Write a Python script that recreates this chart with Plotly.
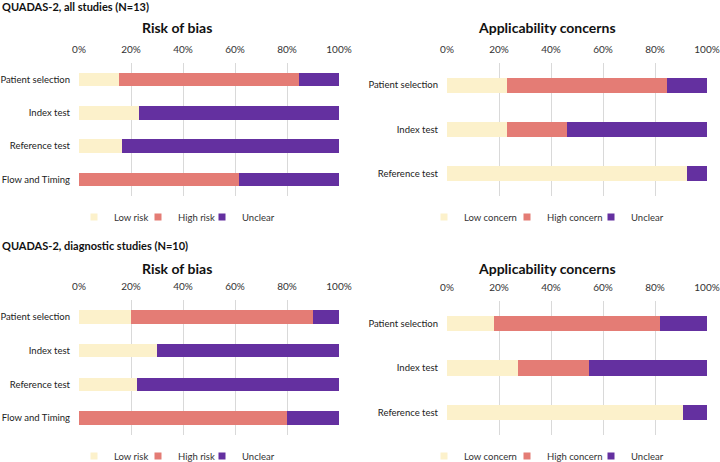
import plotly.graph_objects as go

# ---- data (percent of studies) ----
rob_cats = ["Patient selection", "Index test", "Reference test", "Flow and Timing"]
app_cats = ["Patient selection", "Index test", "Reference test"]

# QUADAS-2, all studies (N=13)
all_rob_low = [15.4, 23.1, 16.7, 0.0]
all_rob_high = [69.2, 0.0, 0.0, 61.5]
all_rob_unclear = [15.4, 76.9, 83.3, 38.5]
all_app_low = [23.1, 23.1, 92.3]
all_app_high = [61.5, 23.1, 0.0]
all_app_unclear = [15.4, 53.8, 7.7]

# QUADAS-2, diagnostic studies (N=10)
dx_rob_low = [20.0, 30.0, 22.2, 0.0]
dx_rob_high = [70.0, 0.0, 0.0, 80.0]
dx_rob_unclear = [10.0, 70.0, 77.8, 20.0]
dx_app_low = [18.2, 27.3, 90.9]
dx_app_high = [63.6, 27.3, 0.0]
dx_app_unclear = [18.2, 45.4, 9.1]

rob_names = ["Low risk", "High risk", "Unclear"]
app_names = ["Low concern", "High concern", "Unclear"]
tick_vals = [0, 20, 40, 60, 80, 100]
tick_text = ["0%", "20%", "40%", "60%", "80%", "100%"]

COLORS = ["#FCF1CB", "#E47C75", "#6430A0"]
FONT = "Lato, Carlito, Calibri, Liberation Sans, sans-serif"
W, H = 720, 462

fig = go.Figure()

panels = [
    # (cats, series, names, xaxis, yaxis, xpx, ypx, bargap, legend_y, legend square x positions)
    (rob_cats, [all_rob_low, all_rob_high, all_rob_unclear], rob_names, "x", "y", (79, 339), (63, 196), 0.6, 217, (94, 158, 222)),
    (app_cats, [all_app_low, all_app_high, all_app_unclear], app_names, "x2", "y2", (447, 707), (63, 196), 0.655, 217, (444, 527, 611)),
    (rob_cats, [dx_rob_low, dx_rob_high, dx_rob_unclear], rob_names, "x3", "y3", (79, 339), (300, 435), 0.6, 456, (94, 158, 222)),
    (app_cats, [dx_app_low, dx_app_high, dx_app_unclear], app_names, "x4", "y4", (447, 707), (301, 435), 0.655, 456, (444, 527, 611)),
]

layout = dict(
    width=W, height=H, margin=dict(l=0, r=0, t=0, b=0, autoexpand=False),
    paper_bgcolor="white", plot_bgcolor="white",
    barmode="stack", showlegend=True,
    font=dict(family=FONT, size=10, color="#222222"),
)

legend_idx = 0
for i, (cats, series, names, xa, ya, xpx, ypx, gap, ly, sq) in enumerate(panels):
    for j, (s, name, col) in enumerate(zip(series, names, COLORS)):
        fig.add_trace(go.Bar(
            y=cats, x=s, name=name, orientation="h",
            marker=dict(color=col, line=dict(width=0)),
            xaxis=xa, yaxis=ya, showlegend=False, width=1 - gap,
            hovertemplate="%{y}: %{x:.1f}%<extra>" + name + "</extra>",
        ))
        legend_idx += 1
        lg = "legend" if legend_idx == 1 else "legend%d" % legend_idx
        # legend proxy with a small square swatch
        fig.add_trace(go.Scatter(
            x=[None], y=[None], mode="markers", name=name,
            marker=dict(symbol="square", size=7, color=col),
            xaxis=xa, yaxis=ya, legend=lg, hoverinfo="skip",
        ))
        layout[lg] = dict(
            orientation="h", x=(sq[j] - 20) / W, y=1 - ly / H,
            xanchor="left", yanchor="middle", xref="paper", yref="paper",
            font=dict(size=9.5, color="#333333"), bgcolor="rgba(0,0,0,0)",
            borderwidth=0, itemwidth=30,
            itemclick=False, itemdoubleclick=False,
        )
    xkey = "xaxis" if xa == "x" else "xaxis" + xa[1:]
    ykey = "yaxis" if ya == "y" else "yaxis" + ya[1:]
    layout[xkey] = dict(
        domain=[xpx[0] / W, xpx[1] / W], anchor=ya, side="top",
        range=[0, 100], tickvals=tick_vals, ticktext=tick_text,
        showgrid=True, gridcolor="#D9D9D9", gridwidth=1,
        zeroline=False, showline=False, ticks="", automargin=False,
        ticklabelstandoff=7, ticklabeloverflow="allow",
        tickfont=dict(size=10, color="#333333"), fixedrange=True,
    )
    layout[ykey] = dict(
        domain=[1 - ypx[1] / H, 1 - ypx[0] / H], anchor=xa,
        autorange="reversed", type="category", showgrid=False,
        zeroline=False, showline=False, ticks="", ticklabelstandoff=8,
        automargin=False,
        tickfont=dict(size=9.5, color="#222222"), fixedrange=True,
    )

fig.update_layout(**layout)

annotations = [
    dict(text="<b>QUADAS-2, all studies (N=13)</b>", x=0, y=1 - 6 / H, xanchor="left", yanchor="middle", size=11),
    dict(text="<b>Risk of bias</b>", x=177 / W, y=1 - 28 / H, xanchor="center", yanchor="middle", size=14),
    dict(text="<b>Applicability concerns</b>", x=547 / W, y=1 - 28 / H, xanchor="center", yanchor="middle", size=14),
    dict(text="<b>QUADAS-2, diagnostic studies (N=10)</b>", x=0, y=1 - 245 / H, xanchor="left", yanchor="middle", size=11),
    dict(text="<b>Risk of bias</b>", x=177 / W, y=1 - 268 / H, xanchor="center", yanchor="middle", size=14),
    dict(text="<b>Applicability concerns</b>", x=547 / W, y=1 - 268 / H, xanchor="center", yanchor="middle", size=14),
]
for a in annotations:
    fig.add_annotation(text=a["text"], x=a["x"], y=a["y"], xref="paper", yref="paper",
                       xanchor=a["xanchor"], yanchor=a["yanchor"], showarrow=False,
                       font=dict(family=FONT, size=a["size"], color="#111111"))

fig.write_html(
    "out.html",
    config={"displayModeBar": False},
    post_script="document.body.style.margin='0';document.body.style.overflow='hidden';",
)
